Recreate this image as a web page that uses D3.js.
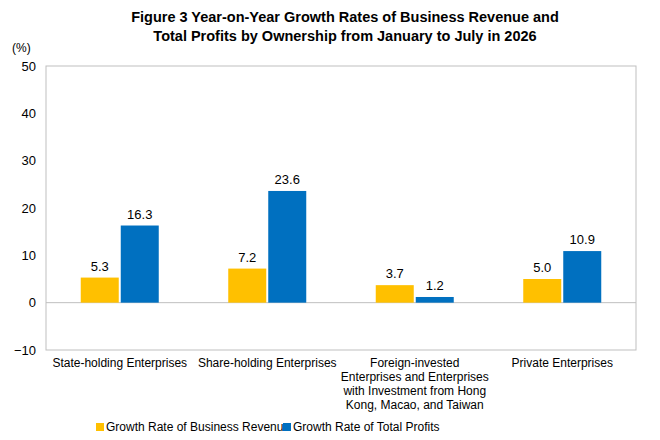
<!DOCTYPE html>
<html><head><meta charset="utf-8">
<script src="https://cdn.jsdelivr.net/npm/d3@7"></script>
<style>body{margin:0;background:#fff}text{font-family:"Liberation Sans",Arial,sans-serif}</style>
</head><body><svg id="chart" width="660" height="440"></svg>
<script>
const categories = [
  ['State-holding Enterprises'],
  ['Share-holding Enterprises'],
  ['Foreign-invested', 'Enterprises and Enterprises', 'with Investment from Hong', 'Kong, Macao, and Taiwan'],
  ['Private Enterprises']
];
const revenue = [5.3, 7.2, 3.7, 5.0];
const profits = [16.3, 23.6, 1.2, 10.9];
const yTicks = [-10, 0, 10, 20, 30, 40, 50];
const seriesNames = ['Growth Rate of Business Revenue', 'Growth Rate of Total Profits'];
const colors = ['#FFC000', '#0070C0'];

const svg = d3.select('#chart');
const plotLeft = 46, plotRight = 636, plotTop = 66, plotBottom = 350;
const x = d3.scaleBand().domain(d3.range(categories.length)).range([plotLeft, plotRight]);
const y = d3.scaleLinear().domain([-10, 50]).range([plotBottom, plotTop]);
const barW = 38;

svg.append('text').attr('x', 345).attr('y', 22).attr('text-anchor', 'middle')
  .attr('font-weight', 'bold').attr('font-size', 14.5)
  .text('Figure 3 Year-on-Year Growth Rates of Business Revenue and');
svg.append('text').attr('x', 345).attr('y', 41).attr('text-anchor', 'middle')
  .attr('font-weight', 'bold').attr('font-size', 14.5)
  .text('Total Profits by Ownership from January to July in 2026');

svg.append('rect').attr('x', plotLeft).attr('y', plotTop).attr('width', plotRight - plotLeft).attr('height', plotBottom - plotTop)
  .attr('fill', 'none').attr('stroke', '#bfbfbf');
svg.append('line').attr('x1', plotLeft).attr('x2', plotRight).attr('y1', y(0)).attr('y2', y(0)).attr('stroke', '#bfbfbf');

const yAxis = svg.append('g').attr('transform', `translate(${plotLeft},0)`)
  .call(d3.axisLeft(y).tickValues(yTicks).tickSize(0).tickPadding(10));
yAxis.select('.domain').remove();
yAxis.selectAll('text').attr('font-size', 13).attr('fill', '#000');
svg.append('text').attr('x', 12).attr('y', 52).attr('font-size', 12).text('(%)');

[revenue, profits].forEach((vals, s) => {
  const off = s === 0 ? -barW - 1 : 1;
  svg.selectAll(null).data(vals).join('rect')
    .attr('x', (d, i) => x(i) + x.bandwidth() / 2 + off)
    .attr('y', d => y(Math.max(d, 0)))
    .attr('width', barW)
    .attr('height', d => Math.abs(y(d) - y(0)))
    .attr('fill', colors[s]);
  svg.selectAll(null).data(vals).join('text')
    .attr('x', (d, i) => x(i) + x.bandwidth() / 2 + off + barW / 2)
    .attr('y', d => y(d) - 7)
    .attr('text-anchor', 'middle').attr('font-size', 13)
    .text(d => d.toFixed(1));
});

categories.forEach((lines, i) => {
  const t = svg.append('text').attr('text-anchor', 'middle').attr('font-size', 12);
  lines.forEach((l, j) => t.append('tspan').attr('x', x(i) + x.bandwidth() / 2).attr('y', 367 + j * 14).text(l));
});

const legendX = [96, 283];
seriesNames.forEach((n, s) => {
  svg.append('rect').attr('x', legendX[s]).attr('y', 423).attr('width', 8).attr('height', 8).attr('fill', colors[s]);
  svg.append('text').attr('x', legendX[s] + 10).attr('y', 431).attr('font-size', 12).text(n);
});
</script></body></html>
